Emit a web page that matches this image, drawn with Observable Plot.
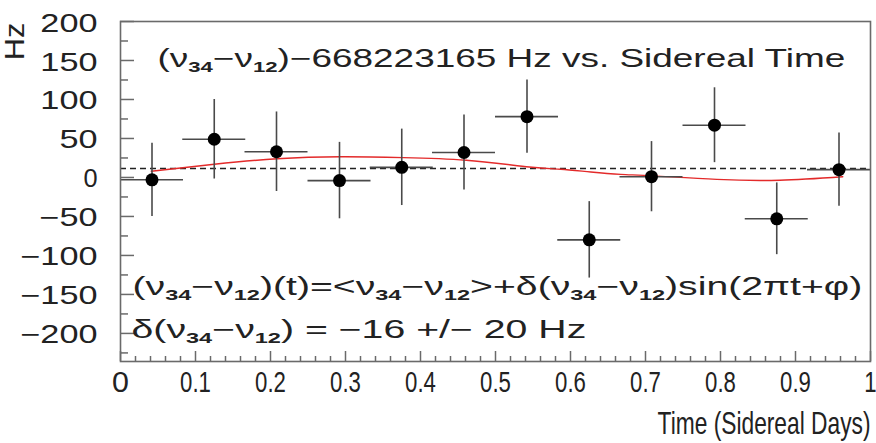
<!DOCTYPE html>
<html><head><meta charset="utf-8">
<script src="https://cdn.jsdelivr.net/npm/d3@7"></script>
<script src="https://cdn.jsdelivr.net/npm/@observablehq/plot@0.6"></script>
<style>html,body{margin:0;padding:0;background:#fff}svg{display:block}</style>
</head><body><div id="chart"></div>
<script>
// ---- data ----
const binCenters   = [0.042, 0.125, 0.208, 0.292, 0.375, 0.458, 0.542, 0.625, 0.708, 0.792, 0.875, 0.958];
const binHalfWidth = [0.042, 0.042, 0.042, 0.042, 0.042, 0.042, 0.042, 0.042, 0.042, 0.042, 0.042, 0.042];
const freqOffsets  = [-3, 49, 33, -4, 13, 32, 78, -80, 1, 67, -53, 10];
const freqErrors   = [47, 51, 51, 49, 49, 48, 47, 49, 45, 48, 46, 47];
const meanOffset   = [11.5];
const fitTimes     = [0.041, 0.125, 0.209, 0.294, 0.377, 0.461, 0.545, 0.587, 0.627, 0.667, 0.711, 0.795, 0.879, 0.963];
const fitValues    = [8, 17, 24, 26.5, 25.5, 22, 13.5, 10.5, 7, 4, 2, -2.5, -3.5, 1];
const yTicks       = [-200, -150, -100, -50, 0, 50, 100, 150, 200];
const yMinorTicks  = [-225, -175, -125, -75, -25, 25, 75, 125, 175];
const xTicks       = [0, 0.1, 0.2, 0.3, 0.4, 0.5, 0.6, 0.7, 0.8, 0.9, 1];
const xTickLabels  = ["0", "0.1", "0.2", "0.3", "0.4", "0.5", "0.6", "0.7", "0.8", "0.9", "1"];
const xMinorTicks  = d3.range(0, 51).map(i => i / 50).filter(v => Math.round(v * 50) % 5 !== 0);
const titleText    = "(ν_34−ν_12)−668223165 Hz vs. Sidereal Time";
const formulaText  = "(ν_34−ν_12)(t)=<ν_34−ν_12>+δ(ν_34−ν_12)sin(2πt+φ)";
const resultText   = "δ(ν_34−ν_12) = −16 +/− 20 Hz";
const xLabelText   = "Time (Sidereal Days)";
const yLabelText   = "Hz";

const points = binCenters.map((t, i) => ({t, hw: binHalfWidth[i], v: freqOffsets[i], e: freqErrors[i]}));
const fit = fitTimes.map((t, i) => ({t, v: fitValues[i]}));

const W = 876, H = 443, mL = 120, mR = 6, mT = 21, mB = 82;
const innerW = W - mL - mR, innerH = H - mT - mB;
const axisColor = "#6a6a6a", textColor = "#222";

const chart = Plot.plot({
  width: W, height: H,
  marginLeft: mL, marginRight: mR, marginTop: mT, marginBottom: mB,
  style: {fontFamily: "'Liberation Sans', Arial, sans-serif", background: "#fff", overflow: "visible"},
  x: {domain: [0, 1], axis: null},
  y: {domain: [-236, 200], axis: null},
  marks: [
    Plot.tickY(yTicks, {y: d => d, insetRight: innerW - 14, stroke: axisColor, strokeWidth: 1.5}),
    Plot.tickY(yMinorTicks, {y: d => d, insetRight: innerW - 8, stroke: axisColor, strokeWidth: 1.5}),
    Plot.tickX(xTicks, {x: d => d, insetTop: innerH - 10, stroke: axisColor, strokeWidth: 1.5}),
    Plot.tickX(xMinorTicks, {x: d => d, insetTop: innerH - 5, stroke: axisColor, strokeWidth: 1.5}),
    Plot.axisY(yTicks, {anchor: "left", tickSize: 0, tickPadding: 23, fontSize: 25, fill: textColor, dy: 2,
      tickFormat: d => (d < 0 ? "−" + Math.abs(d) : String(d)), label: null}),
    Plot.axisX(xTicks, {anchor: "bottom", tickSize: 0, tickPadding: 9, fontSize: 30, fill: textColor,
      tickFormat: (d, i) => xTickLabels[i], label: null}),
    Plot.ruleY(meanOffset, {stroke: "#222", strokeWidth: 1.4, strokeDasharray: "6,4"}),
    Plot.line(fit, {x: "t", y: "v", curve: "natural", stroke: "#e32a2a", strokeWidth: 1.4}),
    Plot.ruleY(points, {y: "v", x1: d => d.t - d.hw, x2: d => d.t + d.hw, stroke: "#4a4a4a", strokeWidth: 1.6}),
    Plot.ruleX(points, {x: "t", y1: d => d.v - d.e, y2: d => d.v + d.e, stroke: "#4a4a4a", strokeWidth: 1.6}),
    Plot.dot(points, {x: "t", y: "v", r: 6.5, fill: "#000", stroke: "none"}),
    Plot.frame({stroke: axisColor, strokeWidth: 1.6}),
    Plot.text([titleText], {frameAnchor: "top-left", dx: 37, dy: 37, textAnchor: "start", lineAnchor: "middle", fontSize: 25, fill: textColor}),
    Plot.text([formulaText], {frameAnchor: "bottom-left", dx: 12, dy: -75, textAnchor: "start", lineAnchor: "middle", fontSize: 25, fill: textColor}),
    Plot.text([resultText], {frameAnchor: "bottom-left", dx: 11, dy: -32, textAnchor: "start", lineAnchor: "middle", fontSize: 25, fill: textColor}),
    Plot.text([xLabelText], {frameAnchor: "bottom-right", dx: 0, dy: 63, textAnchor: "end", lineAnchor: "middle", fontSize: 31, fill: textColor}),
    Plot.text([yLabelText], {frameAnchor: "top-left", dx: -105, dy: 1, rotate: -90, textAnchor: "end", lineAnchor: "middle", fontSize: 28, fill: textColor})
  ]
});

document.getElementById("chart").appendChild(chart);

const NS = "http://www.w3.org/2000/svg";
function subscriptify(el) {
  const s = el.textContent;
  if (!s.includes("_")) return;
  el.textContent = "";
  const parts = s.split(/_(\d+)/);
  parts.forEach((p, i) => {
    if (!p) return;
    const ts = document.createElementNS(NS, "tspan");
    ts.textContent = p;
    if (i % 2 === 1) { ts.setAttribute("dy", "6"); ts.setAttribute("font-size", "15"); ts.setAttribute("font-weight", "bold"); }
    else if (i > 0) ts.setAttribute("dy", "-6");
    el.appendChild(ts);
  });
}
function stretch(el, sx) {
  if (!el) return;
  let tr = el.getAttribute("transform");
  if (!tr) {
    const x = el.getAttribute("x") || 0, y = el.getAttribute("y") || 0;
    el.removeAttribute("x"); el.removeAttribute("y");
    tr = `translate(${x},${y})`;
  }
  el.setAttribute("transform", tr + ` scale(${sx},1)`);
}
function fitWidth(el, target, fallback) {
  let sx = fallback;
  try { const w = el.getBBox().width; if (w > 0) sx = target / w; } catch (e) {}
  stretch(el, sx);
  return sx;
}
const allTexts = Array.from(chart.querySelectorAll("text"));
const byContent = s => allTexts.filter(t => t.textContent === s)[0];
const yLabelStrings = new Set(yTicks.map(d => (d < 0 ? "−" + Math.abs(d) : String(d))));
const xLabelStrings = new Set(xTickLabels);
const yLabelEls = allTexts.filter(t => yLabelStrings.has(t.textContent));
const xLabelEls = allTexts.filter(t => xLabelStrings.has(t.textContent));
const titleEl = byContent(titleText);
const formulaEl = byContent(formulaText);
const resultEl = byContent(resultText);
const xTitleEl = byContent(xLabelText);
const yTitleEl = byContent(yLabelText);
[titleEl, formulaEl, resultEl].forEach(el => el && subscriptify(el));

fitWidth(titleEl, 688, 1.45);
fitWidth(formulaEl, 730, 1.5);
fitWidth(resultEl, 455, 1.5);
yLabelEls.forEach(el => stretch(el, 1.37));
xLabelEls.forEach(el => stretch(el, 0.74));
fitWidth(xTitleEl, 213, 0.74);
stretch(yTitleEl, 1.1);
</script>
</body></html>
